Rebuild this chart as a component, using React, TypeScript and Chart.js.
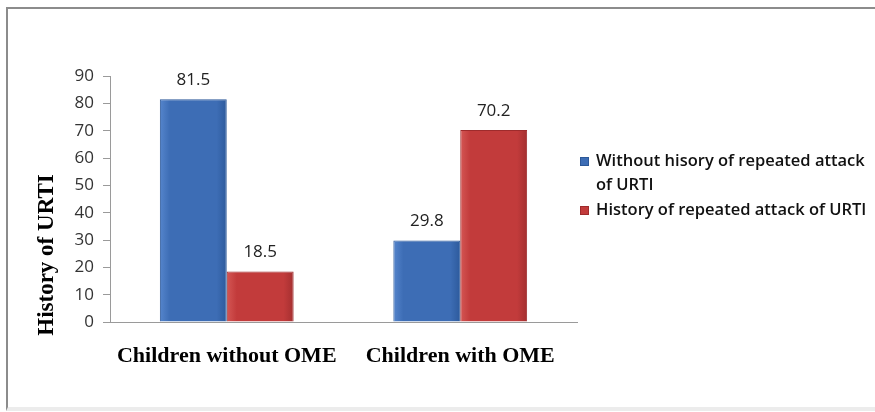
import React, { useEffect, useRef } from "react";
import { Chart, registerables } from "chart.js";

Chart.register(...registerables);

const categories = ["Children without OME", "Children with OME"];
const seriesNames = [
  "Without hisory of repeated attack of URTI",
  "History of repeated attack of URTI",
];
const legendLines = [
  ["Without hisory of repeated attack", "of URTI"],
  ["History of repeated attack of URTI"],
];
const withoutHistory = [81.5, 29.8];
const withHistory = [18.5, 70.2];
const yTicks = [0, 10, 20, 30, 40, 50, 60, 70, 80, 90];
const yTitle = "History of URTI";

const BLUE = "#3D6DB5";
const BLUE_B = "#2C5898";
const RED = "#C23B3B";
const RED_B = "#9E2B2C";
const CAT_PCT = 0.573;

function barGradient(ctx: any, dsIndex: number, light: string, mid: string, dark: string) {
  const chart = ctx.chart;
  const xs = chart.scales && chart.scales.x;
  if (!xs || !chart.chartArea) return mid;
  const center = xs.getPixelForValue(ctx.dataIndex);
  const catW = (chart.chartArea.right - chart.chartArea.left) / categories.length;
  const bw = (catW * CAT_PCT) / 2;
  const left = dsIndex === 0 ? center - bw : center;
  const g = chart.ctx.createLinearGradient(left, 0, left + bw, 0);
  g.addColorStop(0, light);
  g.addColorStop(0.15, mid);
  g.addColorStop(0.85, mid);
  g.addColorStop(1, dark);
  return g;
}

const overlay = {
  id: "overlay",
  afterDatasetsDraw(chart: any) {
    const ctx = chart.ctx;
    ctx.save();
    ctx.font = "17px 'Open Sans', sans-serif";
    ctx.fillStyle = "#222";
    ctx.textAlign = "center";
    ctx.textBaseline = "middle";
    chart.data.datasets.forEach((ds: any, di: number) => {
      const meta = chart.getDatasetMeta(di);
      meta.data.forEach((bar: any, i: number) => {
        ctx.fillText(String(ds.data[i]), bar.x, bar.y - 19);
      });
    });
    ctx.font = "bold 23px 'Liberation Serif', 'Times New Roman', serif";
    ctx.fillStyle = "#000";
    ctx.translate(47, 255);
    ctx.rotate(-Math.PI / 2);
    ctx.fillText(yTitle, 0, 0);
    ctx.restore();

    ctx.save();
    ctx.font = "600 16.5px 'Open Sans', sans-serif";
    ctx.textAlign = "left";
    ctx.textBaseline = "middle";
    const colors = [BLUE, RED];
    const borders = [BLUE_B, RED_B];
    const starts = [161, 210];
    legendLines.forEach((lines, li) => {
      const y0 = starts[li];
      ctx.fillStyle = colors[li];
      ctx.fillRect(580, y0 - 4, 9, 9);
      ctx.strokeStyle = borders[li];
      ctx.lineWidth = 1;
      ctx.strokeRect(580.5, y0 - 3.5, 8, 8);
      ctx.fillStyle = "#111";
      lines.forEach((t, k) => {
        ctx.fillText(t, 596, y0 + k * 24);
      });
    });
    ctx.restore();
  },
};

export default function App() {
  const ref = useRef<HTMLCanvasElement>(null);
  useEffect(() => {
    if (!ref.current) return;
    const chart = new Chart(ref.current, {
      type: "bar",
      data: {
        labels: categories,
        datasets: [
          {
            label: seriesNames[0],
            data: withoutHistory,
            backgroundColor: (c: any) => barGradient(c, 0, "#5585cc", BLUE, "#2d5a9c"),
            borderColor: BLUE_B,
            borderWidth: 1,
            categoryPercentage: CAT_PCT,
            barPercentage: 1,
          },
          {
            label: seriesNames[1],
            data: withHistory,
            backgroundColor: (c: any) => barGradient(c, 1, "#d45654", RED, "#a42f30"),
            borderColor: RED_B,
            borderWidth: 1,
            categoryPercentage: CAT_PCT,
            barPercentage: 1,
          },
        ],
      },
      options: {
        animation: false,
        responsive: false,
        devicePixelRatio: 1,
        layout: { padding: { left: 0, top: 76, right: 298, bottom: 0 } },
        plugins: { legend: { display: false }, tooltip: { enabled: false } },
        scales: {
          x: {
            grid: { display: false, drawTicks: false },
            border: { display: true, color: "#9a9a9a", width: 1 },
            ticks: {
              padding: 21,
              color: "#000",
              autoSkip: false,
              maxRotation: 0,
              minRotation: 0,
              font: { family: "'Liberation Serif', 'Times New Roman', serif", size: 22, weight: "bold" },
            },
            afterFit(scale: any) {
              scale.height = 90;
              scale.paddingLeft = 0;
              scale.paddingRight = 0;
            },
          },
          y: {
            min: 0,
            max: 90,
            afterBuildTicks(scale: any) {
              scale.ticks = yTicks.map((v) => ({ value: v }));
            },
            grid: { drawOnChartArea: false, drawTicks: true, tickLength: 7, color: "#9a9a9a" },
            border: { display: true, color: "#9a9a9a", width: 1 },
            ticks: {
              padding: 9,
              color: "#333",
              font: { family: "'Open Sans', sans-serif", size: 17 },
            },
            afterFit(scale: any) {
              scale.width = 110;
            },
          },
        },
      },
      plugins: [overlay],
    });
    return () => chart.destroy();
  }, []);
  return (
    <div style={{ position: "absolute", left: 0, top: 0, width: 875, height: 412, overflow: "hidden", background: "#fff" }}>
      <div
        style={{
          position: "absolute",
          left: 6,
          top: 7,
          width: 900,
          height: 398,
          borderTop: "2px solid #8c8c8c",
          borderLeft: "2px solid #8c8c8c",
          borderBottom: "4px solid #ececec",
        }}
      />
      <canvas ref={ref} width={875} height={412} style={{ position: "absolute", left: 0, top: 0 }} />
    </div>
  );
}
